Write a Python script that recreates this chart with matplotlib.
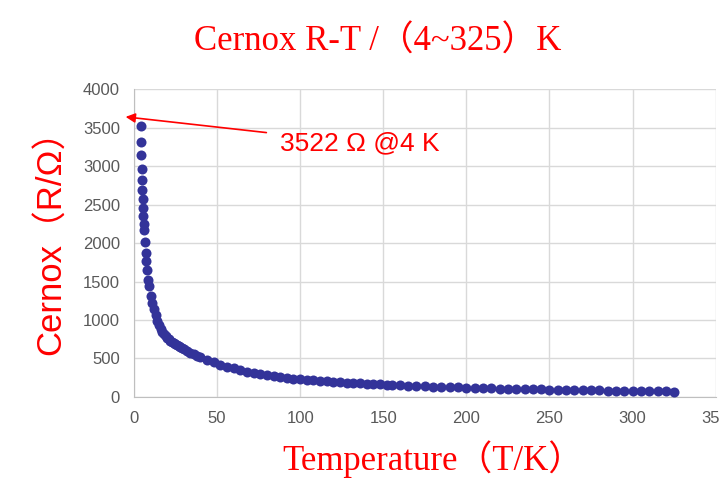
"""Cernox R-T calibration scatter, 4 to 325 K"""

import matplotlib
matplotlib.use("Agg")
from matplotlib import pyplot as plt

# temperature (K) and resistance (ohm)
temps = [4.0, 4.2, 4.4, 4.6, 4.8, 5.0, 5.2, 5.4, 5.6, 5.8, 6.0, 6.5, 7.0, 7.5, 8.0, 8.5, 9.0,
         10, 11, 12, 13, 14, 15, 16, 17, 18, 19, 20, 21, 22, 23, 24, 25, 26, 27, 28, 29, 30,
         32, 34, 36, 38, 40, 44, 48, 52, 56, 60, 64, 68, 72, 76, 80, 84, 88, 92, 96, 100,
         104, 108, 112, 116, 120, 124, 128, 132, 136, 140, 144, 148, 152,
         155, 160, 165, 170, 175, 180, 185, 190, 195, 200, 205, 210, 215, 220, 225, 230,
         235, 240, 245, 250, 255, 260, 265, 270, 275, 280, 285, 290, 295, 300, 305, 310,
         315, 320, 325]
resist = [3522, 3319, 3140, 2967, 2819, 2688, 2576, 2459, 2349, 2241, 2170, 2011, 1872, 1763,
          1655, 1524, 1437,
          1310, 1220, 1140, 1060, 990, 935, 885, 845, 815, 790, 768, 748, 730, 713, 698, 684,
          670, 658, 646, 636, 627,
          600, 577, 555, 535, 515, 480, 450, 420, 395, 372, 350, 330, 313, 298, 284, 271, 259,
          248, 238, 229,
          221, 214, 207, 201, 195, 190, 185, 180, 175, 171, 167, 163, 159,
          155, 150, 146, 142, 138, 134, 131, 127, 124, 117, 114, 112, 110, 107, 105, 103,
          101, 99, 97, 95, 93, 91, 89, 87, 86, 84, 82, 81, 79, 78, 76, 75,
          73, 72, 70]

x_ticks = [0, 50, 100, 150, 200, 250, 300, 350]
y_ticks = [0, 500, 1000, 1500, 2000, 2500, 3000, 3500, 4000]

title_text = "Cernox R-T /（4~325）K"
x_label = "Temperature（T/K）"
y_label = "Cernox（R/Ω）"
note_text = "3522 Ω @4 K"

RED = "#ff0000"
DOT = "#333399"
serif = ["Liberation Serif", "Noto Sans CJK SC", "DejaVu Serif"]
sans = ["Liberation Sans", "Noto Sans CJK SC", "DejaVu Sans"]

fig = plt.figure(figsize=(7.2, 4.9), dpi=100)
ax = fig.add_axes([0.186, 0.190, 0.808, 0.628])

ax.scatter(temps, resist, s=52, color=DOT, zorder=3, linewidths=0)

ax.set_xlim(0, 350)
ax.set_ylim(0, 4000)
ax.set_xticks(x_ticks)
ax.set_yticks(y_ticks)
ax.grid(True, color="#d9d9d9", linewidth=1)
ax.set_axisbelow(True)
for side in ["top", "right"]:
    ax.spines[side].set_visible(False)
for side in ["left", "bottom"]:
    ax.spines[side].set_color("#bfbfbf")
ax.tick_params(length=0, pad=10, labelsize=12, labelcolor="#595959")
for lab in ax.get_xticklabels() + ax.get_yticklabels():
    lab.set_family(sans)

ax.annotate(note_text, xy=(-5, 3640), xytext=(88, 3300), ha="left", va="center",
            fontsize=19, color=RED, family=sans, annotation_clip=False,
            arrowprops=dict(arrowstyle="-|>", color=RED, lw=1.2, mutation_scale=14,
                            shrinkA=8, shrinkB=0))

fig.text(0.524, 0.913, title_text, ha="center", va="center", fontsize=25,
         color=RED, family=serif)
ax.set_xlabel(x_label, fontsize=25, color=RED, family=serif)
ax.set_ylabel(y_label, fontsize=25, color=RED, family=sans)
ax.xaxis.set_label_coords(0.514, -0.14)
ax.yaxis.set_label_coords(-0.113, 0.53)

fig.savefig("out.png", dpi=100)
